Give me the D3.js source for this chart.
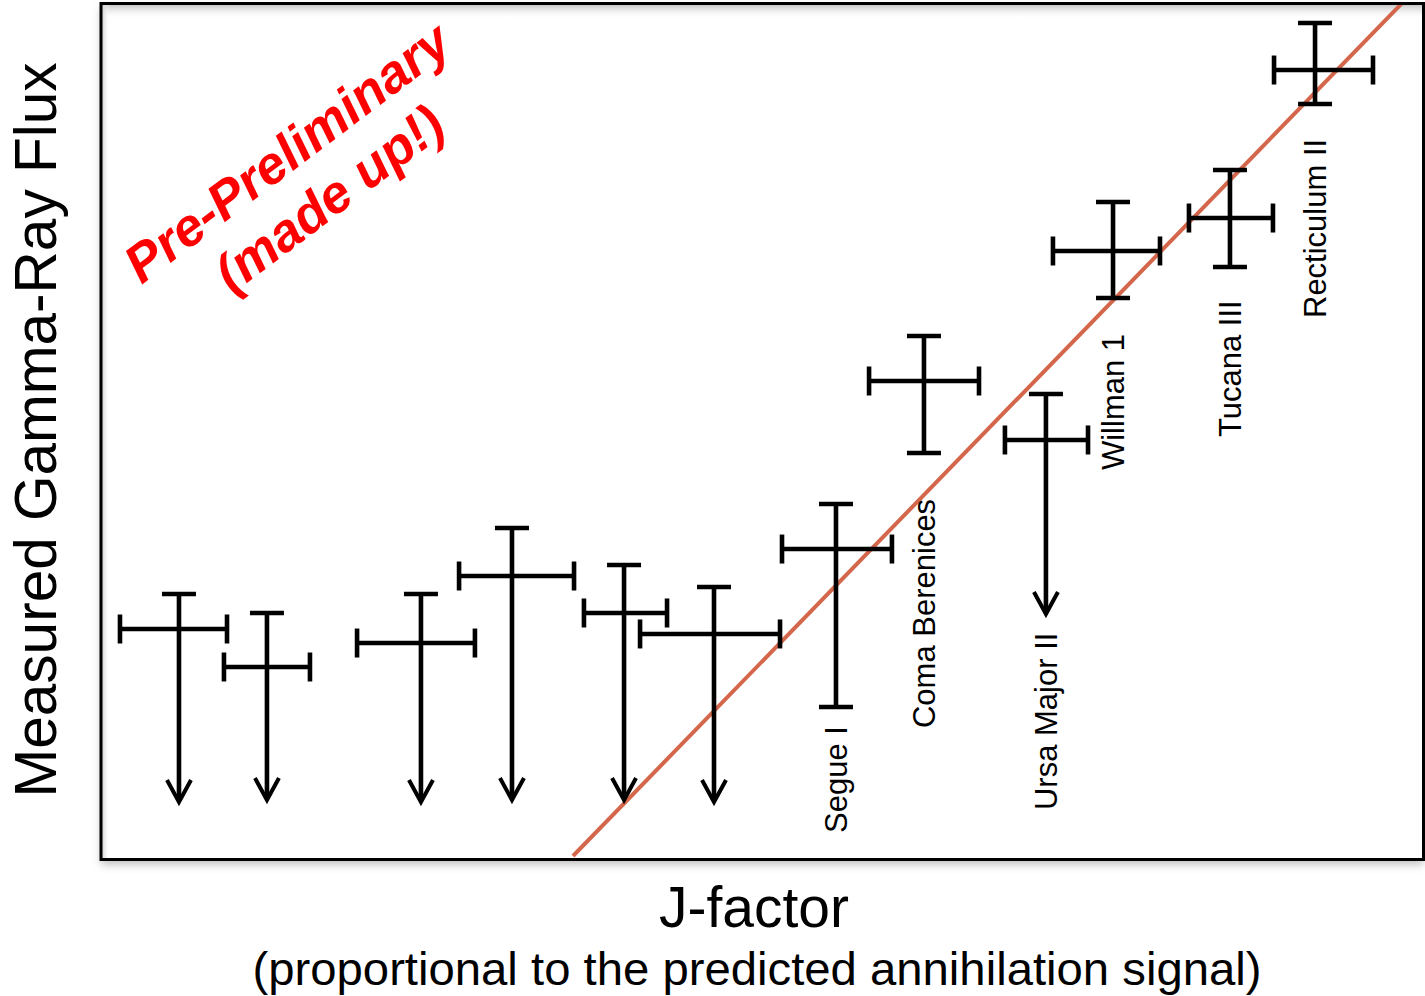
<!DOCTYPE html>
<html>
<head>
<meta charset="utf-8">
<script src="https://cdn.jsdelivr.net/npm/d3@7/dist/d3.min.js"></script>
<style>
  html, body { margin: 0; padding: 0; background: #fff; }
  svg { display: block; }
  text { font-family: "Liberation Sans", Arial, Helvetica, sans-serif; }
</style>
</head>
<body>
<svg id="chart" width="1425" height="996"></svg>
<script>
// ---- Data (arbitrary units; J-factor on x, flux on y, both 0..100) ----
const names      = ["", "", "", "", "", "", "Segue I", "Coma Berenices", "Ursa Major II", "Willman 1", "Tucana III", "Recticulum II"];
const jFactor    = [5.97, 12.62, 24.26, 31.14, 39.61, 46.41, 55.63, 62.28, 71.50, 76.57, 85.41, 91.84];
const jLow       = [1.51,  9.37, 19.43, 27.14, 36.58, 40.82, 51.55, 58.13, 68.40, 72.03, 82.31, 88.74];
const jHigh      = [9.60, 15.87, 28.34, 35.83, 42.86, 51.40, 59.86, 66.44, 74.68, 80.12, 88.66, 96.22];
const flux       = [26.87, 22.43, 25.23, 33.06, 28.74, 26.29, 36.21, 55.84, 48.95, 71.03, 74.88, 92.17];
const fluxHigh   = [30.96, 28.74, 30.96, 38.67, 34.35, 31.78, 41.47, 61.10, 54.32, 76.75, 80.49, 97.66];
const fluxLow    = [ 6.66,  6.89,  6.66,  6.89,  6.89,  6.66, 17.76, 47.43, 28.62, 65.54, 69.16, 88.20];
const upperLimit = [true, true, true, true, true, true, false, false, true, false, false, false];
const labelFlux  = [0, 0, 0, 0, 0, 0, 3.04, 15.30, 5.72, 45.44, 49.30, 63.20];
const trendJ     = [35.75, 98.49];
const trendFlux  = [0.35, 100.1];
const xTitle = "J-factor";
const xSubtitle = "(proportional to the predicted annihilation signal)";
const yTitle = "Measured Gamma-Ray Flux";
const stampLines = ["Pre-Preliminary", "(made up!)"];

// ---- Layout ----
const svg = d3.select("#chart");
const plot = { left: 100, right: 1423, top: 3, bottom: 859 };
const x = d3.scaleLinear().domain([0, 100]).range([plot.left, plot.right]);
const y = d3.scaleLinear().domain([0, 100]).range([plot.bottom, plot.top]);

const defs = svg.append("defs");
const shadow = defs.append("filter").attr("id", "shadow")
  .attr("x", "-5%").attr("y", "-5%").attr("width", "110%").attr("height", "115%");
shadow.append("feDropShadow").attr("dx", 0).attr("dy", 5).attr("stdDeviation", 4)
  .attr("flood-color", "#000").attr("flood-opacity", 0.25);
const gTop = defs.append("linearGradient").attr("id", "gTop").attr("x1", 0).attr("y1", 0).attr("x2", 0).attr("y2", 1);
gTop.append("stop").attr("offset", "0%").attr("stop-color", "#c8c8c8");
gTop.append("stop").attr("offset", "100%").attr("stop-color", "#fff").attr("stop-opacity", 0);
const gLeft = defs.append("linearGradient").attr("id", "gLeft").attr("x1", 0).attr("y1", 0).attr("x2", 1).attr("y2", 0);
gLeft.append("stop").attr("offset", "0%").attr("stop-color", "#d0d0d0");
gLeft.append("stop").attr("offset", "100%").attr("stop-color", "#fff").attr("stop-opacity", 0);
defs.append("clipPath").attr("id", "clip").append("rect")
  .attr("x", plot.left + 1).attr("y", plot.top + 1)
  .attr("width", plot.right - plot.left - 2).attr("height", plot.bottom - plot.top - 2);

// frame background with shadow
svg.append("rect")
  .attr("x", plot.left + 1).attr("y", plot.top + 0.5)
  .attr("width", plot.right - plot.left - 0.5).attr("height", plot.bottom - plot.top)
  .attr("fill", "#fff").attr("filter", "url(#shadow)");
svg.append("rect")
  .attr("x", plot.left + 2).attr("y", plot.top + 2)
  .attr("width", plot.right - plot.left - 3).attr("height", 14)
  .attr("fill", "url(#gTop)");
svg.append("rect")
  .attr("x", plot.left + 2).attr("y", plot.top + 2)
  .attr("width", 8).attr("height", plot.bottom - plot.top - 3)
  .attr("fill", "url(#gLeft)");

// ---- Trend line ----
const line = d3.line().x((d, i) => x(trendJ[i])).y((d, i) => y(trendFlux[i]));
svg.append("path")
  .datum(trendJ)
  .attr("d", line)
  .attr("clip-path", "url(#clip)")
  .attr("fill", "none")
  .attr("stroke", "#d4674b")
  .attr("stroke-width", 4);

// frame border
svg.append("rect")
  .attr("x", plot.left + 1).attr("y", plot.top + 0.5)
  .attr("width", plot.right - plot.left - 0.5).attr("height", plot.bottom - plot.top)
  .attr("fill", "none").attr("stroke", "#000").attr("stroke-width", 3);

// ---- Error bars ----
const data = names.map((n, i) => ({
  name: n, j: jFactor[i], jl: jLow[i], jh: jHigh[i],
  f: flux[i], fh: fluxHigh[i], fl: fluxLow[i], ul: upperLimit[i], lf: labelFlux[i]
}));
const sw = 4.6, capH = 14.5, capW = 17, arrW = 12, arrH = 22;
const g = svg.append("g").attr("stroke", "#000").attr("stroke-width", sw).attr("fill", "none");
data.forEach(d => {
  const cx = x(d.j), cy = y(d.f);
  // horizontal bar
  g.append("line").attr("x1", x(d.jl)).attr("x2", x(d.jh)).attr("y1", cy).attr("y2", cy);
  g.append("line").attr("x1", x(d.jl)).attr("x2", x(d.jl)).attr("y1", cy - capH).attr("y2", cy + capH);
  g.append("line").attr("x1", x(d.jh)).attr("x2", x(d.jh)).attr("y1", cy - capH).attr("y2", cy + capH);
  // vertical bar
  const yTop = y(d.fh), yBot = y(d.fl);
  g.append("line").attr("x1", cx).attr("x2", cx).attr("y1", yTop).attr("y2", d.ul ? yBot - 2 : yBot);
  g.append("line").attr("x1", cx - capW).attr("x2", cx + capW).attr("y1", yTop).attr("y2", yTop);
  if (d.ul) {
    g.append("path")
      .attr("d", `M${cx - arrW},${yBot - arrH}L${cx},${yBot}L${cx + arrW},${yBot - arrH}`)
      .attr("stroke-width", 4).attr("stroke-linejoin", "miter").attr("stroke-miterlimit", 10);
  } else {
    g.append("line").attr("x1", cx - capW).attr("x2", cx + capW).attr("y1", yBot).attr("y2", yBot);
  }
  if (d.name) {
    svg.append("text")
      .attr("transform", `translate(${cx + 11},${y(d.lf)}) rotate(-90)`)
      .attr("text-anchor", "start")
      .attr("font-size", 31)
      .attr("fill", "#000")
      .text(d.name);
  }
});

// ---- Axis titles ----
svg.append("text")
  .attr("x", 754).attr("y", 927)
  .attr("text-anchor", "middle").attr("font-size", 57).attr("fill", "#000")
  .text(xTitle);
svg.append("text")
  .attr("x", 757).attr("y", 985)
  .attr("text-anchor", "middle").attr("font-size", 47).attr("fill", "#000")
  .attr("textLength", 1009).attr("lengthAdjust", "spacingAndGlyphs")
  .text(xSubtitle);
svg.append("text")
  .attr("transform", "translate(56,430) rotate(-90)")
  .attr("text-anchor", "middle").attr("font-size", 60).attr("fill", "#000")
  .attr("textLength", 735).attr("lengthAdjust", "spacingAndGlyphs")
  .text(yTitle);

// ---- Stamp ----
const stamp = svg.append("g").attr("transform", "translate(298,167) rotate(-37)");
stampLines.forEach((t, i) => {
  stamp.append("text")
    .attr("x", i * 6).attr("y", i * 62)
    .attr("text-anchor", "middle")
    .attr("font-size", 53).attr("font-weight", "bold").attr("font-style", "italic")
    .attr("fill", "#ff0000")
    .text(t);
});
</script>
</body>
</html>
